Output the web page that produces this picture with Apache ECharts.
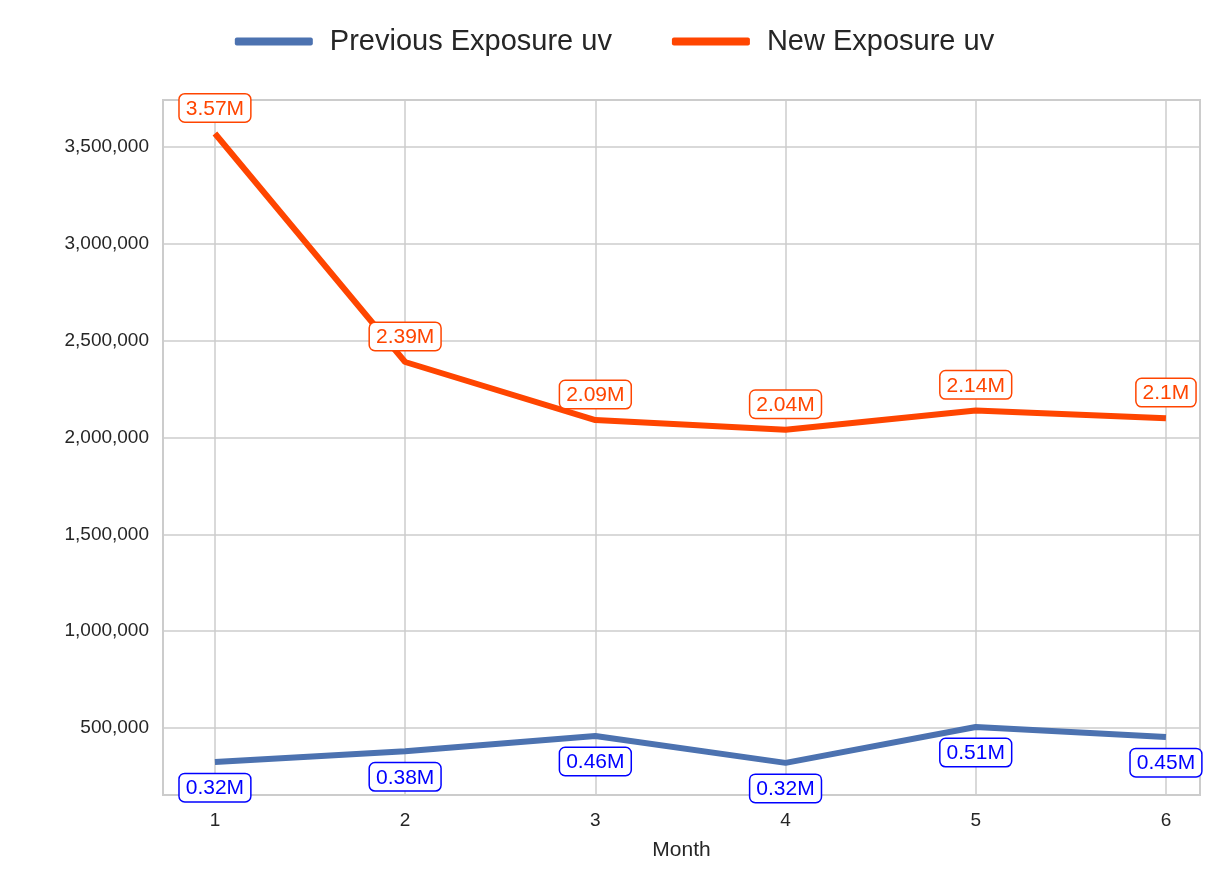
<!DOCTYPE html>
<html>
<head>
<meta charset="utf-8">
<script src="https://cdn.jsdelivr.net/npm/echarts@6/dist/echarts.min.js"></script>
<style>html,body{margin:0;background:#fff}#main{width:1229px;height:881px}</style>
</head>
<body>
<div id="main"></div>
<script>
// 数据
const months = [1, 2, 3, 4, 5, 6];
const previousUv = [324000, 380000, 459000, 320000, 505000, 453000];
const newUv = [3570000, 2390000, 2090000, 2040000, 2140000, 2100000];
const yTicks = [500000, 1000000, 1500000, 2000000, 2500000, 3000000, 3500000];

let chart = echarts.init(document.getElementById('main'));

function fmtM(v) {
  return parseFloat((v / 1e6).toFixed(2)) + 'M';
}

let option = {
  animation: false,
  textStyle: { fontFamily: 'Liberation Sans, Arial, sans-serif' },
  legend: {
    top: 22,
    left: 'center',
    itemWidth: 78,
    itemHeight: 8,
    itemGap: 60,
    icon: 'roundRect',
    textStyle: { fontSize: 29, color: '#262626', padding: [0, 0, 0, 12] },
    data: ['Previous Exposure uv', 'New Exposure uv']
  },
  grid: {
    left: 163, right: 29, top: 100, bottom: 86,
    show: true, borderColor: '#cccccc', borderWidth: 2
  },
  xAxis: {
    type: 'value',
    min: 0.727, max: 6.179,
    name: 'Month', nameLocation: 'middle', nameGap: 45,
    nameTextStyle: { fontSize: 21, color: '#262626' },
    axisLine: { show: false },
    axisTick: { show: false, customValues: months },
    axisLabel: { customValues: months, fontSize: 19, color: '#262626', margin: 16 },
    splitLine: { show: true, lineStyle: { color: '#cccccc', width: 1.5 } }
  },
  yAxis: {
    type: 'value',
    min: 154000, max: 3743000,
    axisLine: { show: false },
    axisTick: { show: false, customValues: yTicks },
    axisLabel: {
      customValues: yTicks, fontSize: 19, color: '#262626', margin: 14,
      formatter: v => v.toLocaleString('en-US')
    },
    splitLine: { show: true, lineStyle: { color: '#cccccc', width: 1.5 } }
  },
  series: [{
    name: 'Previous Exposure uv',
    type: 'line',
    data: months.map((m, i) => [m, previousUv[i]]),
    showSymbol: true,
    symbol: 'circle',
    symbolSize: 0.1,
    lineStyle: { color: '#4c72b0', width: 6 },
    itemStyle: { color: '#4c72b0' },
    label: {
      show: true, position: 'bottom', distance: 12,
      formatter: p => fmtM(p.value[1]),
      color: '#0000ff', fontSize: 21,
      backgroundColor: '#fff', borderColor: '#0000ff', borderWidth: 1.5,
      borderRadius: 5, padding: [4, 6, 2, 6]
    }
  }, {
    name: 'New Exposure uv',
    type: 'line',
    data: months.map((m, i) => [m, newUv[i]]),
    showSymbol: true,
    symbol: 'circle',
    symbolSize: 0.1,
    lineStyle: { color: '#ff4500', width: 6 },
    itemStyle: { color: '#ff4500' },
    label: {
      show: true, position: 'top', distance: 12,
      formatter: p => fmtM(p.value[1]),
      color: '#ff4500', fontSize: 21,
      backgroundColor: '#fff', borderColor: '#ff4500', borderWidth: 1.5,
      borderRadius: 5, padding: [4, 6, 2, 6]
    }
  }]
};

chart.setOption(option);
</script>
</body>
</html>
